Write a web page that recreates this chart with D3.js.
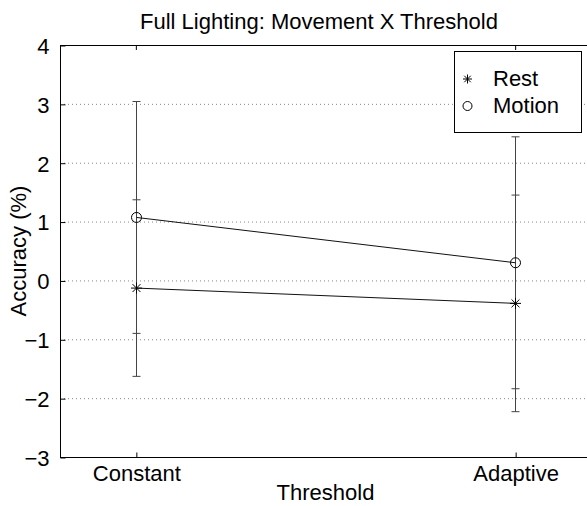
<!DOCTYPE html>
<html>
<head>
<meta charset="utf-8">
<script src="https://cdn.jsdelivr.net/npm/d3@7"></script>
<style>
  html, body { margin: 0; padding: 0; background: #fff; }
  svg { display: block; }
  text { font-family: "Liberation Sans", Arial, Helvetica, sans-serif; fill: #000; }
</style>
</head>
<body>
<svg id="chart" width="587" height="506"></svg>
<script>
// Conditions along the x axis
const categories = ["Constant", "Adaptive"];

// Mean accuracy (%) and error-bar half-widths per condition
const restMean = [-0.13, -0.39];
const restErr = [1.50, 1.84];
const motionMean = [1.07, 0.30];
const motionErr = [1.97, 2.14];

const yTicks = [-3, -2, -1, 0, 1, 2, 3, 4];
const gridTicks = [-2, -1, 0, 1, 2, 3];

const seriesNames = ["Rest", "Motion"];

const svg = d3.select("#chart");
const pLeft = 60, pRight = 591, pTop = 45, pBottom = 457;

const x = d3.scaleLinear().domain([0.8, 2.2]).range([pLeft, pRight]);
const y = d3.scaleLinear().domain([-3, 4]).range([pBottom, pTop]);
const xPos = i => x(i + 1);

const FS = 22;

// Dotted horizontal grid
svg.append("g").selectAll("line").data(gridTicks).join("line")
  .attr("x1", pLeft).attr("x2", pRight)
  .attr("y1", d => y(d) + 0.5).attr("y2", d => y(d) + 0.5)
  .attr("stroke", "#888").attr("stroke-width", 1)
  .attr("stroke-dasharray", "1,3");

// Axes box
svg.append("rect")
  .attr("x", pLeft + 0.5).attr("y", pTop + 0.5)
  .attr("width", pRight - pLeft).attr("height", pBottom - pTop)
  .attr("fill", "none").attr("stroke", "#000").attr("stroke-width", 1);

// Left axis: ticks pointing inward, labels on the outside
const yAxis = d3.axisLeft(y).tickValues(yTicks).tickSize(-5).tickPadding(11)
  .tickFormat(d => d < 0 ? "\u2212" + Math.abs(d) : String(d));
const gy = svg.append("g").attr("transform", `translate(${pLeft + 0.5},0.5)`).call(yAxis);
gy.select(".domain").remove();
gy.selectAll(".tick line").attr("stroke", "#000");
gy.selectAll(".tick text").attr("font-size", FS).attr("dy", "0.36em")
  .attr("font-family", "Liberation Sans, Arial, sans-serif");

// Bottom axis with category labels
const xAxis = d3.axisBottom(x).tickValues([1, 2]).tickSize(-5).tickPadding(0)
  .tickFormat((d, i) => categories[i]);
const gx = svg.append("g").attr("transform", `translate(0.5,${pBottom + 0.5})`).call(xAxis);
gx.select(".domain").remove();
gx.selectAll(".tick line").attr("stroke", "#000");
gx.selectAll(".tick text").attr("font-size", FS).attr("dy", null).attr("y", 23)
  .attr("font-family", "Liberation Sans, Arial, sans-serif");

// Top tick marks
svg.append("g").selectAll("line").data([1, 2]).join("line")
  .attr("x1", d => x(d) + 0.5).attr("x2", d => x(d) + 0.5)
  .attr("y1", pTop).attr("y2", pTop + 5)
  .attr("stroke", "#000");

// Error bars
const errGroup = svg.append("g").attr("stroke", "#444").attr("stroke-width", 1);
function errorBars(means, errs) {
  means.forEach((m, i) => {
    const cx = Math.round(xPos(i)) + 0.5;
    const y1 = y(m + errs[i]), y2 = y(m - errs[i]);
    errGroup.append("line").attr("x1", cx).attr("x2", cx).attr("y1", y1).attr("y2", y2);
    [y1, y2].forEach(yy => errGroup.append("line")
      .attr("x1", cx - 4).attr("x2", cx + 4).attr("y1", yy).attr("y2", yy));
  });
}
errorBars(restMean, restErr);
errorBars(motionMean, motionErr);

// Connecting lines
const line = d3.line().x((d, i) => Math.round(xPos(i)) + 0.5).y(d => y(d));
svg.append("path").datum(restMean).attr("d", line)
  .attr("fill", "none").attr("stroke", "#111").attr("stroke-width", 1);
svg.append("path").datum(motionMean).attr("d", line)
  .attr("fill", "none").attr("stroke", "#111").attr("stroke-width", 1);

// Marker shapes
function star(g, cx, cy, r) {
  const a = r * 0.72;
  const p = `M${cx - r},${cy}H${cx + r}M${cx},${cy - r}V${cy + r}` +
            `M${cx - a},${cy - a}L${cx + a},${cy + a}M${cx - a},${cy + a}L${cx + a},${cy - a}`;
  g.append("path").attr("d", p).attr("stroke", "#000").attr("stroke-width", 1).attr("fill", "none");
}
function circ(g, cx, cy, r) {
  g.append("circle").attr("cx", cx).attr("cy", cy).attr("r", r)
    .attr("fill", "none").attr("stroke", "#000").attr("stroke-width", 1);
}
const marks = svg.append("g");
restMean.forEach((m, i) => star(marks, Math.round(xPos(i)) + 0.5, y(m), 5.5));
motionMean.forEach((m, i) => circ(marks, Math.round(xPos(i)) + 0.5, y(m), 5));

// Legend
const lg = svg.append("g");
lg.append("rect").attr("x", 454.5).attr("y", 51.5).attr("width", 127).attr("height", 81)
  .attr("fill", "#fff").attr("stroke", "#000").attr("stroke-width", 1);
star(lg, 467.5, 79, 4.5);
circ(lg, 467.5, 106, 4.5);
lg.selectAll("text").data(seriesNames).join("text")
  .attr("x", 493).attr("y", (d, i) => 86 + i * 27)
  .attr("font-size", FS).text(d => d);

// Titles
svg.append("text").attr("x", 319).attr("y", 29).attr("text-anchor", "middle")
  .attr("font-size", FS).text("Full Lighting: Movement X Threshold");
svg.append("text").attr("x", 325.5).attr("y", 500).attr("text-anchor", "middle")
  .attr("font-size", FS).text("Threshold");
svg.append("text").attr("transform", `translate(26,${(pTop + pBottom) / 2}) rotate(-90)`)
  .attr("text-anchor", "middle").attr("font-size", FS).text("Accuracy (%)");
</script>
</body>
</html>
